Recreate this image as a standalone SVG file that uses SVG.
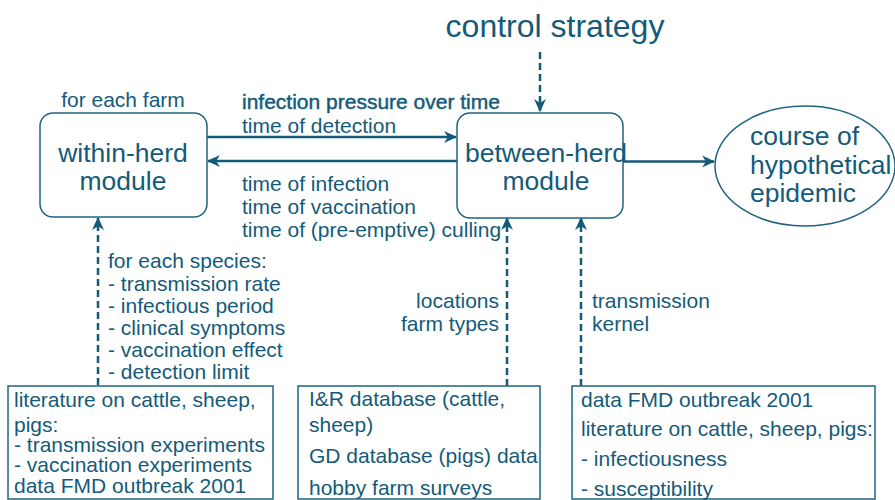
<svg xmlns="http://www.w3.org/2000/svg" width="895" height="500" viewBox="0 0 895 500">
<style>
text{font-family:"Liberation Sans",Arial,sans-serif;fill:#145b79}
.s{font-size:21px}
.m{font-size:26.5px}
.big{font-size:32px}
.box{fill:#fff;stroke:#1e6482;stroke-width:1.5}
.ln{stroke:#145b79;stroke-width:2.5;fill:none}
.dash{stroke:#145b79;stroke-width:2.5;fill:none;stroke-dasharray:7 4}
</style>
<defs>
<marker id="ah" viewBox="0 0 12 12" refX="11" refY="6" markerWidth="13" markerHeight="13" markerUnits="userSpaceOnUse" orient="auto">
<path d="M0,0.5 L12,6 L0,11.5 L3.5,6 z" fill="#145b79"/>
</marker>
<clipPath id="c1"><rect x="8" y="386" width="265" height="114"/></clipPath>
<clipPath id="c2"><rect x="298" y="386" width="242" height="114"/></clipPath>
<clipPath id="c3"><rect x="572" y="386" width="303" height="114"/></clipPath>
</defs>
<rect width="895" height="500" fill="#fff"/>

<g id="connectors">
<line class="ln" x1="207" y1="137" x2="456" y2="137" marker-end="url(#ah)"/>
<line class="ln" x1="457" y1="161" x2="208" y2="161" marker-end="url(#ah)"/>
<line class="ln" x1="623" y1="161.5" x2="714" y2="161.5" marker-end="url(#ah)"/>
<line class="dash" x1="540" y1="52" x2="540" y2="111" marker-end="url(#ah)"/>
<line class="dash" x1="98" y1="385" x2="98" y2="218" marker-end="url(#ah)"/>
<line class="dash" x1="507" y1="386" x2="507" y2="218" marker-end="url(#ah)"/>
<line class="dash" x1="581" y1="386" x2="581" y2="218" marker-end="url(#ah)"/>
</g>

<g id="control-strategy">
<text class="big" x="555" y="37" text-anchor="middle">control strategy</text>
</g>

<g id="within-herd">
<text class="s" x="123" y="107" text-anchor="middle">for each farm</text>
<rect class="box" x="40" y="113" width="167" height="104" rx="13"/>
<text class="m" x="123" y="162" text-anchor="middle">within-herd</text>
<text class="m" x="123" y="190" text-anchor="middle">module</text>
</g>

<g id="between-herd">
<rect class="box" x="457" y="113" width="166" height="105" rx="13"/>
<text class="m" x="546" y="162" text-anchor="middle">between-herd</text>
<text class="m" x="546" y="190" text-anchor="middle">module</text>
</g>

<g id="epidemic">
<ellipse cx="805" cy="166" rx="90" ry="60" fill="#fff" stroke="#1e6482" stroke-width="1.5"/>
<text class="m" x="750" y="145">course of</text>
<text class="m" x="750" y="174">hypothetical</text>
<text class="m" x="750" y="202">epidemic</text>
</g>

<g id="arrow-labels">
<text class="s" x="242" y="109" stroke="#145b79" stroke-width="0.45">infection pressure over time</text>
<text class="s" x="242" y="133">time of detection</text>
<text class="s" x="242" y="191">time of infection</text>
<text class="s" x="242" y="214">time of vaccination</text>
<text class="s" x="242" y="237">time of (pre-emptive) culling</text>
<text class="s" x="108" y="268">for each species:</text>
<text class="s" x="108" y="291">- transmission rate</text>
<text class="s" x="108" y="313">- infectious period</text>
<text class="s" x="108" y="335">- clinical symptoms</text>
<text class="s" x="108" y="357">- vaccination effect</text>
<text class="s" x="108" y="379">- detection limit</text>
<text class="s" x="499" y="308" text-anchor="end">locations</text>
<text class="s" x="499" y="331" text-anchor="end">farm types</text>
<text class="s" x="592" y="308">transmission</text>
<text class="s" x="592" y="331">kernel</text>
</g>

<g id="source-literature">
<rect class="box" x="8" y="386" width="265" height="113"/>
<g clip-path="url(#c1)">
<text class="s" x="14" y="407">literature on cattle, sheep,</text>
<text class="s" x="14" y="432">pigs:</text>
<text class="s" x="14" y="452">- transmission experiments</text>
<text class="s" x="14" y="472">- vaccination experiments</text>
<text class="s" x="14" y="493">data FMD outbreak 2001</text>
</g>
</g>

<g id="source-databases">
<rect class="box" x="298" y="386" width="242" height="113"/>
<g clip-path="url(#c2)">
<text class="s" x="309" y="406">I&amp;R database (cattle,</text>
<text class="s" x="309" y="432">sheep)</text>
<text class="s" x="309" y="463">GD database (pigs) data</text>
<text class="s" x="309" y="495">hobby farm surveys</text>
</g>
</g>

<g id="source-outbreak">
<rect class="box" x="572" y="386" width="303" height="113"/>
<g clip-path="url(#c3)">
<text class="s" x="581" y="407">data FMD outbreak 2001</text>
<text class="s" x="581" y="436">literature on cattle, sheep, pigs:</text>
<text class="s" x="581" y="466">- infectiousness</text>
<text class="s" x="581" y="496">- susceptibility</text>
</g>
</g>
</svg>
